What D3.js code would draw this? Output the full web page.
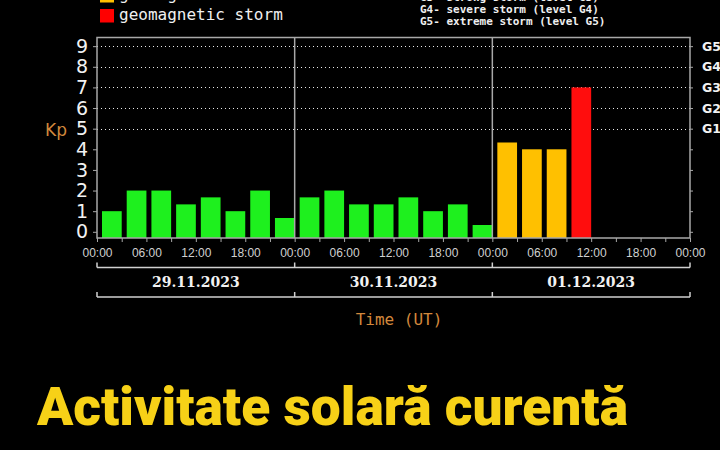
<!DOCTYPE html>
<html><head><meta charset="utf-8">
<script src="https://cdn.jsdelivr.net/npm/d3@7"></script>
<style>html,body{margin:0;padding:0;background:#000;}svg{display:block;}</style>
</head><body>
<script>
// ---- data ----
const dates = ["29.11.2023", "30.11.2023", "01.12.2023"];
const kpValues = [1, 2, 2, 1.33, 1.67, 1, 2, 0.67,
                  1.67, 2, 1.33, 1.33, 1.67, 1, 1.33, 0.33,
                  4.33, 4, 4, 7];
const yTicks = [0, 1, 2, 3, 4, 5, 6, 7, 8, 9];
const gridLevels = [5, 6, 7, 8, 9];
const gLabels = ["G1", "G2", "G3", "G4", "G5"];
const hourLabels = ["00:00", "06:00", "12:00", "18:00"];
const legendLeft = [["geomagnetic disturbance", "#ffc000"], ["geomagnetic storm", "#ff0000"]];
const legendRight = ["G3- strong storm (level G3)", "G4- severe storm (level G4)", "G5- extreme storm (level G5)"];
const title = "Activitate solară curentă";

const W = 720, H = 450;
const svg = d3.select("body").append("svg").attr("width", W).attr("height", H);
svg.append("rect").attr("width", W).attr("height", H).attr("fill", "#000");

const pL = 97, pR = 690, pT = 37.5, pB = 238;
const t0 = new Date(Date.UTC(2023, 10, 29, 0));
const t1 = new Date(Date.UTC(2023, 11, 2, 0));
const x = d3.scaleUtc().domain([t0, t1]).range([pL, pR]);
const y = d3.scaleLinear().domain([-0.3, 9.42]).range([pB, pT]);
const H3 = 3 * 3600 * 1000;
const frame = "#a8a8a8";

// grid dotted
svg.append("g").selectAll("line").data(gridLevels).join("line")
  .attr("x1", pL).attr("x2", pR)
  .attr("y1", d => Math.round(y(d)) + 0.5).attr("y2", d => Math.round(y(d)) + 0.5)
  .attr("stroke", "#e8e8e8").attr("stroke-width", 1).attr("stroke-dasharray", "1,3");

// bars
const color = v => v >= 5 ? "#ff0d0d" : (v >= 4 ? "#ffc000" : "#1ef01e");
svg.append("g").selectAll("rect").data(kpValues).join("rect")
  .attr("x", (d, i) => x(new Date(t0.getTime() + i * H3)) + 5)
  .attr("width", (d, i) => x(new Date(t0.getTime() + (i + 1) * H3)) - x(new Date(t0.getTime() + i * H3)) - 5)
  .attr("y", d => y(d))
  .attr("height", d => pB - y(d))
  .attr("fill", d => color(d));

// frame
svg.append("rect").attr("x", pL).attr("y", pT).attr("width", pR - pL).attr("height", pB - pT)
  .attr("fill", "none").attr("stroke", frame).attr("stroke-width", 1.5);
// day separators
const dayBounds = d3.utcDay.range(t0, t1).concat([t1]);
svg.append("g").selectAll("line").data(dayBounds.slice(1, -1)).join("line")
  .attr("x1", d => x(d)).attr("x2", d => x(d)).attr("y1", pT).attr("y2", pB)
  .attr("stroke", frame).attr("stroke-width", 1.5);

// left axis
const yl = svg.append("g").attr("transform", `translate(${pL},0)`)
  .call(d3.axisLeft(y).tickValues(yTicks).tickSize(4).tickPadding(5).tickFormat(d3.format("d")));
yl.select(".domain").remove();
yl.selectAll("line").attr("stroke", frame);
yl.selectAll("text").attr("fill", "#f2f2f2").attr("font-family", "DejaVu Sans").attr("font-size", 19);

// right axis
const yr = svg.append("g").attr("transform", `translate(${pR},0)`)
  .call(d3.axisRight(y).tickValues(yTicks).tickSize(3).tickPadding(9)
    .tickFormat(d => d >= 5 ? gLabels[d - 5] : ""));
yr.select(".domain").remove();
yr.selectAll("line").attr("stroke", frame);
yr.selectAll("text").attr("fill", "#f2f2f2").attr("font-family", "DejaVu Sans").attr("font-weight", "bold").attr("font-size", 12.5);

// bottom axis
const xa = svg.append("g").attr("transform", `translate(0,${pB})`)
  .call(d3.axisBottom(x).ticks(d3.utcHour.every(3)).tickSize(4).tickPadding(6)
    .tickFormat(d => d.getUTCHours() % 6 === 0 ? hourLabels[d.getUTCHours() / 6] : ""));
xa.select(".domain").remove();
xa.selectAll("line").attr("stroke", frame);
xa.selectAll("text").attr("fill", "#d0d0d0").attr("font-family", "Liberation Sans").attr("font-size", 12);

// Kp label
svg.append("text").attr("x", 45).attr("y", 136).attr("fill", "#d2883c")
  .attr("font-family", "DejaVu Sans").attr("font-size", 17).text("Kp");

// date brackets
[267.5, 297].forEach(yy => {
  svg.append("line").attr("x1", pL).attr("x2", pR).attr("y1", yy).attr("y2", yy)
    .attr("stroke", "#d0d0d0").attr("stroke-width", 1.5);
  svg.append("g").selectAll("line").data(dayBounds).join("line")
    .attr("x1", d => x(d)).attr("x2", d => x(d)).attr("y1", yy - 5).attr("y2", yy)
    .attr("stroke", "#d0d0d0").attr("stroke-width", 1.5);
});
svg.append("g").selectAll("text").data(dates).join("text")
  .attr("x", (d, i) => (x(dayBounds[i]) + x(dayBounds[i + 1])) / 2)
  .attr("y", 287).attr("text-anchor", "middle")
  .attr("fill", "#f2f2f2").attr("font-family", "DejaVu Serif").attr("font-weight", "bold").attr("font-size", 14)
  .text(d => d);

svg.append("text").attr("x", 399).attr("y", 325).attr("text-anchor", "middle")
  .attr("fill", "#d2883c").attr("font-family", "DejaVu Sans Mono").attr("font-size", 16).text("Time (UT)");

// legend left
legendLeft.forEach(([label, c], i) => {
  const by = 0 + i * 20;
  svg.append("rect").attr("x", 100).attr("y", by - 11).attr("width", 14).attr("height", 13.5).attr("fill", c);
  svg.append("text").attr("x", 119).attr("y", by).attr("fill", "#f0f0f0")
    .attr("font-family", "DejaVu Sans Mono").attr("font-size", 16).text(label);
});
// legend right
legendRight.forEach((label, i) => {
  svg.append("text").attr("x", 420).attr("y", 0.5 + i * 12.2).attr("fill", "#f0f0f0")
    .attr("font-family", "DejaVu Sans Mono").attr("font-weight", "bold").attr("font-size", 11).text(label);
});

// title
svg.append("text").attr("x", 37).attr("y", 425).attr("fill", "#f7d117")
  .attr("font-family", "Roboto").attr("font-weight", 900).attr("font-size", 53)
  .attr("textLength", 591).attr("lengthAdjust", "spacingAndGlyphs").text(title);
</script>
</body></html>
